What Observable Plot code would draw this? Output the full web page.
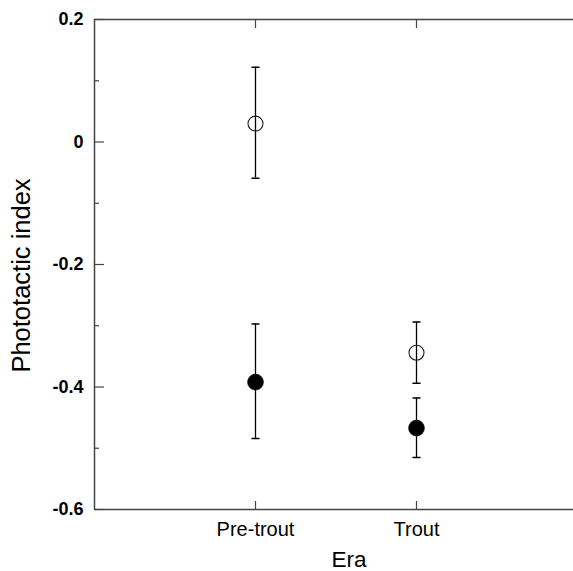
<!DOCTYPE html>
<html>
<head>
<meta charset="utf-8">
<script src="https://cdn.jsdelivr.net/npm/d3@7"></script>
<script src="https://cdn.jsdelivr.net/npm/@observablehq/plot@0.6"></script>
<style>
  html, body { margin: 0; padding: 0; background: #fff; overflow: hidden; }
  svg { display: block; }
</style>
</head>
<body>
<div id="chart"></div>
<script>
// Data
const categories = ["Pre-trout", "Trout"];
const eraPos = [1, 2];
const openMean = [0.03, -0.344];
const openHi = [0.122, -0.294];
const openLo = [-0.059, -0.394];
const filledMean = [-0.392, -0.467];
const filledHi = [-0.297, -0.418];
const filledLo = [-0.484, -0.515];
const yMajor = [0.2, 0, -0.2, -0.4, -0.6];
const yMinor = [0.1, -0.1, -0.3, -0.5];

const rows = [];
categories.forEach((c, i) => {
  rows.push({era: c, x: eraPos[i], group: "open", mean: openMean[i], hi: openHi[i], lo: openLo[i]});
  rows.push({era: c, x: eraPos[i], group: "filled", mean: filledMean[i], hi: filledHi[i], lo: filledLo[i]});
});
const caps = rows.flatMap(d => [{x: d.x, y: d.hi}, {x: d.x, y: d.lo}]);

const capShape = {draw(ctx, l) { ctx.moveTo(0, 0); ctx.lineTo(0, -l); }};
const ink = "#000";
const frame = "#444";

const chart = Plot.plot({
  width: 573,
  height: 571,
  marginLeft: 94,
  marginRight: -4,
  marginTop: 19,
  marginBottom: 62,
  style: {fontFamily: "Arial, 'Liberation Sans', sans-serif", background: "#fff"},
  x: {domain: [0, 3]},
  y: {domain: [-0.6, 0.2]},
  marks: [
    // frame lines
    Plot.ruleX([0], {stroke: frame, strokeWidth: 1.5}),
    Plot.ruleY([0.2], {stroke: frame, strokeWidth: 1.5}),
    Plot.ruleY([-0.6], {stroke: frame, strokeWidth: 1.5}),
    // y ticks (inward)
    Plot.axisY({ticks: yMajor, tickSize: -10, text: null, label: null, stroke: frame, strokeWidth: 1.2}),
    Plot.axisY({ticks: yMinor, tickSize: -5, text: null, label: null, stroke: frame, strokeWidth: 1.2}),
    Plot.axisY({ticks: yMajor, tickSize: 0, tickPadding: 11, fontSize: 18, fontWeight: 600,
      tickFormat: d => d === 0 ? "0" : String(d), label: null, fill: ink}),
    // x ticks (inward, top and bottom)
    Plot.axisX({anchor: "bottom", ticks: eraPos, tickSize: -8, text: null, label: null, stroke: frame, strokeWidth: 1.2}),
    Plot.axisX({anchor: "top", ticks: eraPos, tickSize: -8, text: null, label: null, stroke: frame, strokeWidth: 1.2}),
    Plot.axisX({anchor: "bottom", ticks: eraPos, tickSize: 0, tickPadding: 12, fontSize: 20,
      tickFormat: d => categories[eraPos.indexOf(d)], label: null, fill: ink}),
    // axis titles
    Plot.text(["Era"], {frameAnchor: "bottom", dx: 13, dy: 57, fontSize: 22.5, fill: ink, textAnchor: "middle", lineAnchor: "bottom"}),
    Plot.text(["Phototactic index"], {frameAnchor: "left", dx: -73, dy: 11, rotate: -90, fontSize: 25.5, fill: ink, textAnchor: "middle"}),
    // error bars
    Plot.ruleX(rows, {x: "x", y1: "lo", y2: "hi", stroke: ink, strokeWidth: 1.3}),
    Plot.vector(caps, {x: "x", y: "y", length: 7, rotate: 90, anchor: "middle", shape: capShape, stroke: ink, strokeWidth: 1.5}),
    // points
    Plot.dot(rows.filter(d => d.group === "open"), {x: "x", y: "mean", r: 7.5, fill: "none", stroke: "#222", strokeWidth: 1.1}),
    Plot.dot(rows.filter(d => d.group === "filled"), {x: "x", y: "mean", r: 8, fill: ink, stroke: ink, strokeWidth: 0.5})
  ]
});
document.getElementById("chart").appendChild(chart);
</script>
</body>
</html>
